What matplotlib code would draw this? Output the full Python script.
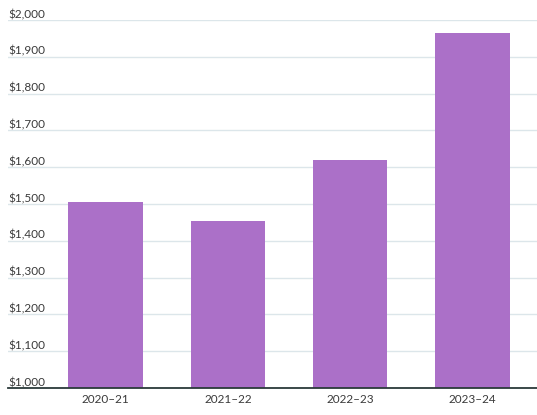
import matplotlib.pyplot as plt
import matplotlib.transforms as mtransforms

seasons = ["2020\u201321", "2021\u201322", "2022\u201323", "2023\u201324"]
values = [1506, 1455, 1620, 1964]
yticks = [1000, 1100, 1200, 1300, 1400, 1500, 1600, 1700, 1800, 1900, 2000]

plt.rcParams['font.family'] = ['Lato', 'DejaVu Sans']

fig = plt.figure(figsize=(5.37, 4.15), dpi=100)
ax = fig.add_axes([8/537, 27/415, 529/537, 368/415])

ax.bar(range(len(seasons)), values, width=0.61, color='#ab70c8', zorder=2)

ax.set_ylim(1000, 2000)
ax.set_xlim(-0.8, 3.53)

ax.set_yticks(yticks)
ax.set_yticklabels(['${:,}'.format(v) for v in yticks])
offset = mtransforms.ScaledTranslation(0, 2/72, fig.dpi_scale_trans)
for lab in ax.get_yticklabels():
    lab.set_ha('left')
    lab.set_va('bottom')
    lab.set_transform(lab.get_transform() + offset)
ax.tick_params(axis='y', length=0, pad=0, labelsize=8.5, labelcolor='#3a3a3a')

ax.set_xticks(range(len(seasons)))
ax.set_xticklabels(seasons)
ax.tick_params(axis='x', length=0, pad=4, labelsize=8.5, labelcolor='#3a3a3a')

ax.grid(axis='y', color='#dce6ea', linewidth=1, zorder=0)
ax.set_axisbelow(True)

for s in ['top', 'right', 'left']:
    ax.spines[s].set_visible(False)
ax.spines['bottom'].set_color('#2b3a3a')
ax.spines['bottom'].set_linewidth(1.3)
ax.spines['bottom'].set_zorder(3)

fig.savefig('out.png', dpi=100)
